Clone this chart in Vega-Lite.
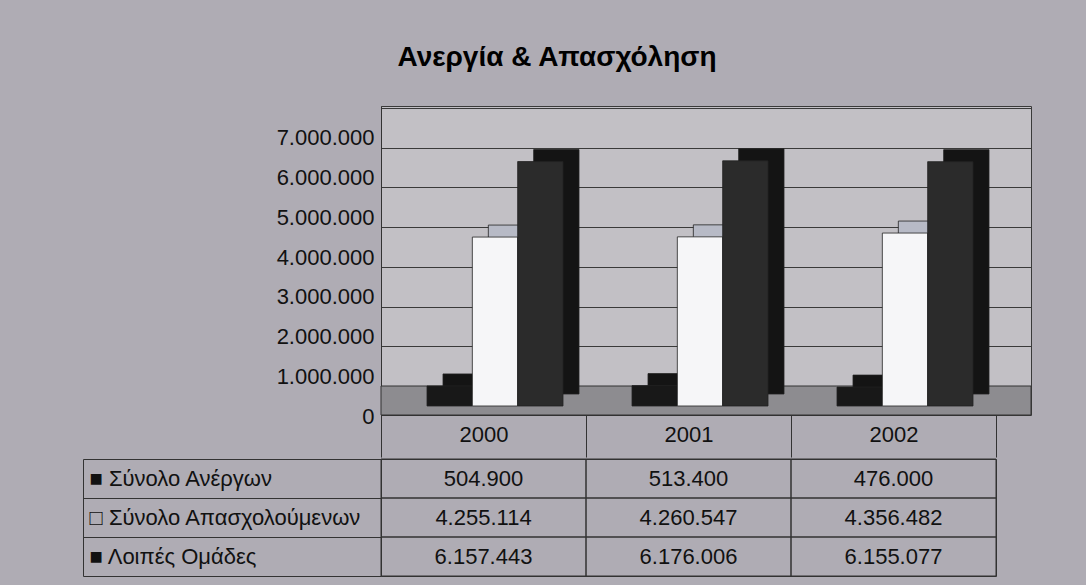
{
  "$schema": "https://vega.github.io/schema/vega-lite/v6.json",
  "background": "#afacb4",
  "padding": {"left": 82, "top": 43, "right": 56, "bottom": 9},
  "autosize": {"type": "pad"},
  "title": {"text": "Ανεργία & Απασχόληση", "fontSize": 28, "font": "Liberation Sans", "fontWeight": "bold", "color": "#000000", "offset": 34, "anchor": "middle"},
  "config": {
    "locale": {"number": {"decimal": ",", "thousands": ".", "grouping": [3], "currency": ["", " €"]}},
    "font": "Liberation Sans",
    "concat": {"spacing": 0}
  },
  "datasets": {
    "main": [
      {"year": "2000", "series": "Σύνολο Ανέργων", "value": 504900},
      {"year": "2001", "series": "Σύνολο Ανέργων", "value": 513400},
      {"year": "2002", "series": "Σύνολο Ανέργων", "value": 476000},
      {"year": "2000", "series": "Σύνολο Απασχολούμενων", "value": 4255114},
      {"year": "2001", "series": "Σύνολο Απασχολούμενων", "value": 4260547},
      {"year": "2002", "series": "Σύνολο Απασχολούμενων", "value": 4356482},
      {"year": "2000", "series": "Λοιπές Ομάδες", "value": 6157443},
      {"year": "2001", "series": "Λοιπές Ομάδες", "value": 6176006},
      {"year": "2002", "series": "Λοιπές Ομάδες", "value": 6155077}
    ]
  },
  "vconcat": [
    {
      "width": 650,
      "height": 309,
      "view": {"fill": "#c2c0c5", "stroke": "#3a3a3a"},
      "layer": [
        {
          "data": {"values": [{"part": "floor"}]},
          "mark": {"type": "rect", "fill": "#8d8c90", "stroke": "#333333", "strokeWidth": 1},
          "encoding": {
            "y": {"datum": 0, "type": "quantitative",
              "scale": {"domain": [-730000, 7050000], "nice": false, "zero": false},
              "axis": {"orient": "left", "values": [0, 1000000, 2000000, 3000000, 4000000, 5000000, 6000000, 7000000],
                "format": ",d", "grid": true, "gridColor": "#3a3a3a", "gridWidth": 1, "ticks": false,
                "domain": true, "domainColor": "#333333", "labelOffset": 30, "labelPadding": 7,
                "labelFontSize": 22, "labelColor": "#111111", "title": null, "labelFlush": false}},
            "y2": {"datum": -730000}
          }
        },
        {
          "data": {"name": "main"},
          "mark": {"type": "bar", "yOffset": -12, "stroke": "#222222", "strokeWidth": 0.8},
          "encoding": {
            "x": {"field": "year", "type": "nominal", "scale": {"range": [0, 615], "paddingInner": 0, "paddingOuter": 0}},
            "xOffset": {"field": "series", "type": "nominal", "scale": {"domain": ["Σύνολο Ανέργων", "Σύνολο Απασχολούμενων", "Λοιπές Ομάδες"], "range": [62, 198]}},
            "y": {"field": "value", "type": "quantitative", "scale": {"domain": [-227000, 7557000], "nice": false}, "axis": null},
            "color": {"field": "series", "type": "nominal", "scale": {"domain": ["Σύνολο Ανέργων", "Σύνολο Απασχολούμενων", "Λοιπές Ομάδες"], "range": ["#141414", "#b7bac6", "#141414"]}, "legend": null}
          }
        },
        {
          "data": {"name": "main"},
          "mark": {"type": "bar", "stroke": "#222222", "strokeWidth": 0.8},
          "encoding": {
            "x": {"field": "year", "type": "nominal", "scale": {"range": [0, 615], "paddingInner": 0, "paddingOuter": 0},
              "axis": {"orient": "bottom", "title": null, "labelAngle": 0, "labelAlign": "center", "tickBand": "extent", "tickSize": 42,
                "tickColor": "#333333", "labelPadding": -23, "labelColor": "#111111",
                "labelFontSize": {"condition": {"test": "!datum.value", "value": 0}, "value": 22},
                "domain": true, "domainColor": "#333333", "grid": false,
                "labelExpr": "datum.value ? datum.label : ''"}},
            "xOffset": {"field": "series", "type": "nominal", "scale": {"domain": ["Σύνολο Ανέργων", "Σύνολο Απασχολούμενων", "Λοιπές Ομάδες"], "range": [46, 182]}},
            "y": {"field": "value", "type": "quantitative", "scale": {"domain": [-227000, 7557000], "nice": false}, "axis": null},
            "color": {"field": "series", "type": "nominal", "scale": {"domain": ["Σύνολο Ανέργων", "Σύνολο Απασχολούμενων", "Λοιπές Ομάδες"], "range": ["#181818", "#f6f6f8", "#2b2b2b"]}, "legend": null}
          }
        }
      ],
      "resolve": {"scale": {"y": "independent", "color": "independent", "xOffset": "independent"}, "axis": {"y": "independent"}}
    },
    {
      "width": 615,
      "height": 117,
      "view": {"stroke": "#333333"},
      "data": {"name": "main"},
      "encoding": {
        "x": {"field": "year", "type": "nominal", "scale": {"paddingInner": 0, "paddingOuter": 0}, "axis": null},
        "y": {"field": "series", "type": "nominal", "sort": ["Σύνολο Ανέργων", "Σύνολο Απασχολούμενων", "Λοιπές Ομάδες"],
          "scale": {"paddingInner": 0, "paddingOuter": 0},
          "axis": {"orient": "left", "offset": 298, "title": null, "domain": true, "domainColor": "#333333",
            "ticks": true, "tickBand": "extent", "tickSize": -298, "tickColor": "#333333",
            "labelAlign": "left", "labelBaseline": "middle", "labelPadding": 292,
            "labelFontSize": {"condition": {"test": "!datum.value", "value": 0}, "value": 22},
            "labelColor": "#111111", "labelLimit": 400,
            "labelExpr": "datum.value ? ((datum.value == 'Σύνολο Απασχολούμενων' ? '□ ' : '■ ') + datum.value) : ''"}}
      },
      "layer": [
        {"mark": {"type": "rect", "fill": "transparent", "stroke": "#333333", "strokeWidth": 1}},
        {"mark": {"type": "text", "fontSize": 22, "color": "#111111"},
          "encoding": {"text": {"field": "value", "type": "quantitative", "format": ",d"}}}
      ]
    }
  ],
  "resolve": {"scale": {"x": "independent", "y": "independent", "color": "independent", "xOffset": "independent"}}
}
